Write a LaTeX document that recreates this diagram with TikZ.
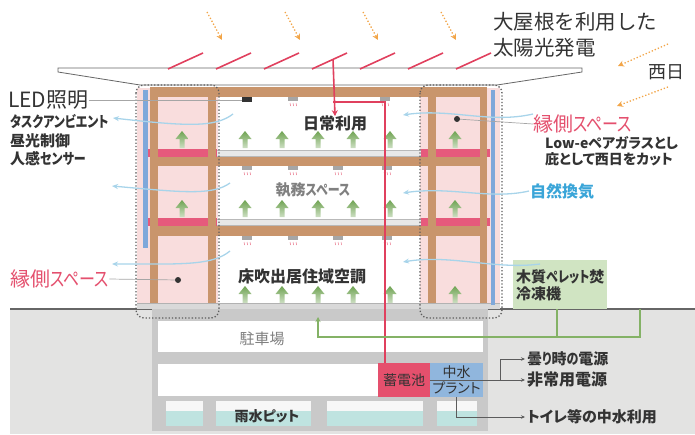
\documentclass[tikz,border=0pt]{standalone}
\usepackage{fontspec}
\usepackage{graphicx}
\setmainfont{Noto Sans CJK JP}[RawFeature=+palt]
\newfontfamily\jpfull{Noto Sans CJK JP}
\usetikzlibrary{arrows.meta}
\newcommand\fsz[1]{\fontsize{#1}{#1}\selectfont}
% condensed kana runs
\newcommand\hw[1]{\scalebox{0.8}[1]{#1}}
\definecolor{beam}{HTML}{C9956C}
\definecolor{engawa}{HTML}{F9DDDD}
\definecolor{slab}{HTML}{E65A7C}
\definecolor{glass}{HTML}{7FA8DA}
\definecolor{power}{HTML}{E0405E}
\definecolor{leaf}{HTML}{6FA352}
\definecolor{pipe}{HTML}{84B266}
\definecolor{earth}{HTML}{E3E3E2}
\definecolor{concrete}{HTML}{C9C9C9}
\definecolor{rain}{HTML}{BFE3E0}
\definecolor{battery}{HTML}{E5506D}
\definecolor{water}{HTML}{90B6DD}
\definecolor{pellet}{HTML}{D0E4C2}
\definecolor{breeze}{HTML}{A8D4EA}
\definecolor{breezetext}{HTML}{3AA5D8}
\definecolor{accent}{HTML}{E4506E}
\definecolor{sunray}{HTML}{F2A548}
\definecolor{ink}{HTML}{333333}
\begin{document}
\begin{tikzpicture}[x=1pt,y=-1pt,
  every node/.style={inner sep=0pt, text=ink},
  lbl/.style={anchor=west},
  thinline/.style={draw=gray!70, line width=0.7pt},
  conn/.style={draw=ink!80, line width=0.7pt, shorten >=2pt, -{Stealth[length=4pt,width=3.5pt]}},
  wind/.style={draw=breeze, line width=1.3pt, -{Stealth[length=6pt,width=5pt]}},
  sun/.style={draw=sunray, line width=1.3pt, dotted, -{Stealth[length=6pt,width=6pt]}},
  panel/.style={draw=power, line width=1.6pt},
  powerline/.style={draw=power, line width=1.6pt},
  pipeline/.style={draw=pipe, line width=1.6pt},
  zone/.style={draw=ink!80, line width=1.3pt, dotted, rounded corners=8pt},
  uparrow/.pic={\shade[top color=leaf, bottom color=leaf!35] (-2.5,0) -- (-2.5,-9) -- (-6.5,-9) -- (0,-17) -- (6.5,-9) -- (2.5,-9) -- (2.5,0) -- cycle;},
  unit/.pic={\fill[gray!70] (-5,0) rectangle (5,4);
    \foreach \dx in {-3,0,3} \draw[power!70, line width=0.5pt] (\dx,6) -- (\dx+0.6,9);},
  ledunit/.pic={\fill[ink] (-5,0) rectangle (5,5);},
]
\useasboundingbox (0,0) rectangle (695,434);

% ground and basement
\fill[earth] (10,309) rectangle (695,434);
\draw[gray!80!black, line width=1.3pt] (10,309) -- (152,309);
\draw[gray!80!black, line width=1.3pt] (487,309) -- (695,309);
\fill[concrete] (152,309) rectangle (488,431);
\fill[white] (158,321) rectangle (483,352);
\fill[white] (158,364) rectangle (378,396);
\foreach \a/\b in {166/203,216/311,327/423,437/477}{
  \fill[white!94!gray] (\a,401) rectangle (\b,411);
  \fill[rain] (\a,411) rectangle (\b,426);
}
\node[fill=battery, minimum width=52pt, minimum height=34pt, font=\fsz{14}] (batt) at (404,380) {蓄電池};
\node[fill=water, minimum width=53pt, minimum height=34pt, align=center,
      font=\fontsize{14}{16}\selectfont] (plant) at (456.5,380) {中水\\プラント};

% roof
\filldraw[fill=white, draw=gray!80!black, line width=0.8pt]
  (58,68) -- (582,68) -- (582,72) -- (497,85) -- (140,85) -- (58,72) -- cycle;
\foreach \x in {168,216,264,312,360,408,456} \draw[panel] (\x,69) -- (\x+35,53);
\foreach \x in {207,285,363,441} \draw[sun] (\x,12) -- (\x+15,40);
\draw[sun] (668,44) -- (618,66);
\draw[sun] (668,87) -- (617,106);

% building
\fill[engawa] (137,88) rectangle (218,304);
\fill[engawa] (420,88) rectangle (500,304);
\foreach \y in {150,219}{
  \fill[gray!18] (216,\y) rectangle (428,\y+7);
  \draw[gray!55, line width=0.8pt] (216,\y) -- (428,\y) (216,\y+6) -- (428,\y+6);
  \fill[slab] (147,\y-1) rectangle (217,\y+7);
  \fill[slab] (421,\y-1) rectangle (490,\y+7);
}
\fill[beam] (150,87) rectangle (487,97);
\fill[beam] (150,157) rectangle (487,166);
\fill[beam] (150,226) rectangle (487,236);
\foreach \a/\b in {150/158,208/216,428/436,480/487} \fill[beam] (\a,87) rectangle (\b,304);
\fill[gray!30] (137,303) rectangle (500,309);
\draw[gray!60, line width=0.6pt] (137,303) -- (500,303);
\fill[glass] (143,90) rectangle (147.5,248);
\fill[glass] (491,90) rectangle (495,305);
\draw[zone] (136,85) rectangle (219,318);
\draw[zone] (420,85) rectangle (502,318);

% ceiling fittings
\pic at (247,97) {ledunit};
\foreach \x in {293,385} \pic at (\x,97) {unit};
\foreach \y in {166,236} \foreach \x in {247,293,338,387} \pic at (\x,\y) {unit};

% under-floor supply arrows
\foreach \y in {148,217} \foreach \x in {182,245,282,318,353,390,455} \pic at (\x,\y) {uparrow};
\foreach \x in {245,282,318,353,390,455} \pic at (\x,303) {uparrow};

% labels
\node[lbl, font=\jpfull\fsz{20.5}] (roofa) at (493,22) {大屋根を利用した};
\node[lbl, font=\jpfull\fsz{20.5}] (roofb) at (493,48) {太陽光発電};
\node[font=\fsz{18}] (westsun) at (666,72) {西日};
\node[lbl, font=\fsz{21}] (led) at (8,100) {LED照明};
\node[lbl, font=\bfseries\fsz{15}] (task) at (10,122) {\hw{タスクアンビエント}};
\node[lbl, font=\bfseries\fsz{15}] (daylight) at (10,141) {昼光制御};
\node[lbl, font=\bfseries\fsz{15}] (sensor) at (10,159) {人感\hw{センサー}};
\node[lbl, font=\fsz{20}, text=accent] (engL) at (10,279) {縁側\hw{スペース}};
\node[lbl, font=\fsz{20}, text=accent] (engR) at (533,124) {縁側\hw{スペース}};
\node[lbl, font=\bfseries\fsz{14}] (lowe) at (545,143) {Low-eペアガラスとし};
\node[lbl, font=\bfseries\fsz{14}] (eave) at (545,159) {庇として西日をカット};
\node[lbl, font=\bfseries\fsz{16}, text=breezetext] (vent) at (530,191) {自然換気};
\node[font=\bfseries\fsz{16}] (daily) at (335,123) {日常利用};
\node[font=\bfseries\fsz{15}, text=gray] (office) at (313,190) {執務\hw{スペース}};
\node[font=\bfseries\fsz{16}] (floorac) at (302,276) {床吹出居住域空調};
\node[fill=pellet, minimum width=94pt, minimum height=49pt, anchor=north west] (pelletbox) at (513,260) {};
\node[lbl, font=\bfseries\fsz{15}] (pelleta) at (516,277) {木質\hw{ペレット}焚};
\node[lbl, font=\bfseries\fsz{15}] (pelletb) at (516,294) {冷凍機};
\node[font=\fsz{15}, text=gray] (park) at (262,339) {駐車場};
\node[font=\bfseries\fsz{14}] (rainpit) at (267,416) {雨水ピット};
\node[lbl, font=\bfseries\fsz{15}] (cloudy) at (527,359) {曇\hw{り}時\hw{の}電源};
\node[lbl, font=\bfseries\fsz{16}] (emer) at (527,380) {非常用電源};
\node[lbl, font=\bfseries\fsz{15}] (toilet) at (527,417) {トイレ等の中水利用};

% leader lines
\coordinate (ledpt) at (242,100);
\draw[thinline] (led.east) -- (ledpt);
\node[circle, fill=ink, minimum size=6pt] (dotL) at (178,280) {};
\node[circle, fill=ink, minimum size=6pt] (dotR) at (457,119) {};
\draw[thinline] (engL.east) -- (dotL);
\draw[thinline] (dotR) -- (engR.west);

% natural ventilation
\draw[wind] (233,114) .. controls (215,128) and (185,126) .. (113,118);
\draw[wind] (533,114) .. controls (490,124) and (450,108) .. (403,115);
\draw[wind] (230,183) .. controls (212,196) and (180,192) .. (112,186);
\draw[wind] ([xshift=-1pt]vent.west) .. controls (490,200) and (450,186) .. (403,193);
\draw[wind] (230,251) .. controls (212,266) and (180,264) .. (112,264);
\draw[wind] (540,264) .. controls (495,270) and (450,254) .. (403,262);

% solar power line
\coordinate (pv) at (333,59);
\coordinate (split) at (333,102);
\coordinate (drop) at (385,102);
\draw[powerline, -{Stealth[length=6pt,width=6pt]}] (pv) -- ([yshift=-1pt]daily.north);
\draw[powerline] (split) -- (drop) -- (drop |- batt.north);

% heat supply pipe
\coordinate (pipeA) at (557,309);
\coordinate (pipeB) at (640,309);
\coordinate (pipeEnd) at (318,317);
\draw[pipeline] (pipeA) -- (557,337);
\draw[pipeline, -{Stealth[length=5pt,width=5pt]}] (pipeB) -- (640,337) -- (318,337) -- (pipeEnd);

% battery and water plant outputs
\coordinate (bj) at (500,380);
\draw[draw=ink!80, line width=0.7pt] (batt.east) -- (bj);
\draw[conn] (bj) -- (emer.west);
\draw[conn] (bj) |- (cloudy.west);
\draw[conn] (plant.south) |- (toilet.west);
\end{tikzpicture}
\end{document}
